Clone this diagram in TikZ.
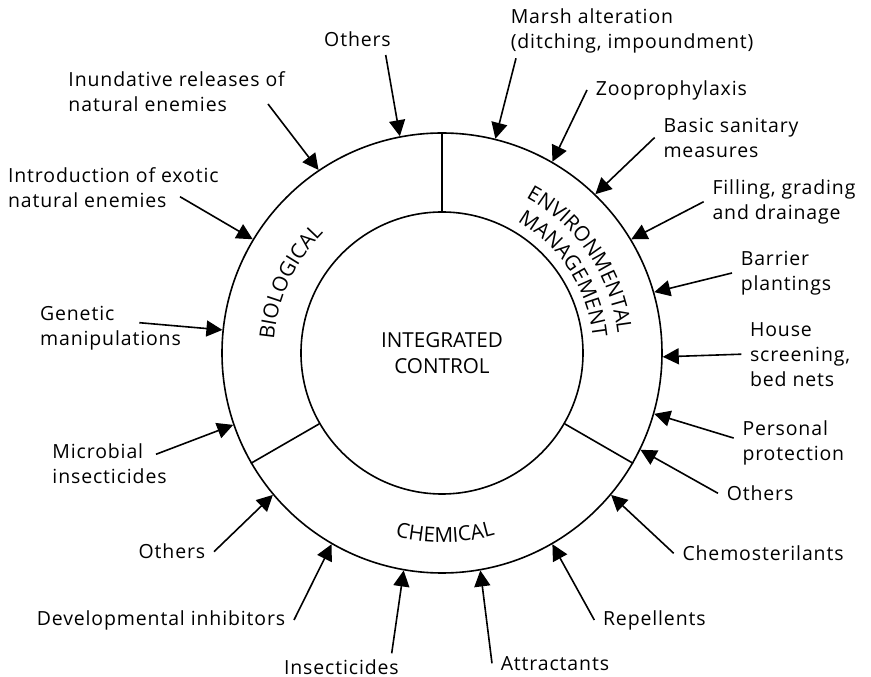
\documentclass[tikz,border=0pt]{standalone}
\usepackage{fontspec}
\setmainfont{Open Sans}
\newfontfamily\labfam{Open Sans}[LetterSpace=4.5]
\usepackage{tikz}
\usetikzlibrary{arrows.meta,decorations.text}
\newcommand{\labfont}{\labfam\fontsize{14.6pt}{18.75pt}\selectfont}
\newcommand{\ringfont}{\fontsize{15.5pt}{19pt}\selectfont}
\tikzset{lab/.style={font=\labfont,align=left,inner sep=6pt},
  ringtext/.style={decorate,decoration={text along path,text align=center,text={|\ringfont|#1}}}}
\begin{document}
\begin{tikzpicture}[x=0.75pt,y=0.75pt,>={Triangle[length=12pt,width=12pt]},line width=1.2pt]
\useasboundingbox (-442,-324) rectangle (429,353);
\node[draw,circle,minimum size=330pt,inner sep=0pt] (ring) at (0,0) {};
\node[draw,circle,minimum size=211.5pt,inner sep=0pt,font=\ringfont,align=center] (core) at (0,0) {INTEGRATED\\CONTROL};
\draw (core.90)--(ring.90); \draw (core.210)--(ring.210); \draw (core.330)--(ring.330);
\path[ringtext=BIOLOGICAL] (185:168.5) arc[start angle=185,end angle=125,radius=168.5];
\path[ringtext=CHEMICAL] (241:189.5) arc[start angle=241,end angle=301,radius=189.5];
\path[ringtext=ENVIRONMENTAL] (70:176.5) arc[start angle=70,end angle=-2,radius=176.5];
\path[ringtext=MANAGEMENT] (70:151.5) arc[start angle=70,end angle=-4,radius=151.5];
% biological side
\node[lab] (othersB) at (-84.5,314) {Others};
\node[lab,anchor=west] (inund) at (-382.3,261.5) {Inundative releases of\\natural enemies};
\node[lab,anchor=west] (intro) at (-442.7,165.5) {Introduction of exotic\\natural enemies};
\node[lab,anchor=west] (genetic) at (-410.7,25) {Genetic\\manipulations};
\node[lab,anchor=west] (microbial) at (-398.3,-111.2) {Microbial\\insecticides};
\coordinate (othersBT) at (-56.3,298); \coordinate (inundT) at (-174,249);
\coordinate (introT) at (-262,156.3); \coordinate (geneticT) at (-302.7,30.3);
\coordinate (microbialT) at (-286,-101.3);
\draw[->] (othersBT)--(ring.101); \draw[->] (inundT)--(ring.124);
\draw[->] (introT)--(ring.149); \draw[->] (geneticT)--(ring.174);
\draw[->] (microbialT)--(ring.199);
% chemical side
\node[lab,anchor=east] (othersC) at (-228,-198.7) {Others};
\node[lab,anchor=east] (devel) at (-148,-267) {Developmental inhibitors};
\node[lab,anchor=west] (insect) at (-166.7,-313.7) {Insecticides};
\node[lab,anchor=west] (attract) at (50,-310.3) {Attractants};
\node[lab,anchor=west] (repell) at (152.3,-267) {Repellents};
\node[lab,anchor=west] (chemo) at (231.7,-200.3) {Chemosterilants};
\coordinate (insectT) at (-50.3,-300.3);
\draw[->] (othersC.east)--(ring.220); \draw[->] (devel.east)--(ring.240);
\draw[->] (insectT)--(ring.260); \draw[->] (attract.west)--(ring.280);
\draw[->] (repell.west)--(ring.300); \draw[->] (chemo.west)--(ring.320);
% environmental side
\node[lab,anchor=west] (othersE) at (276,-140.3) {Others};
\node[lab,anchor=west] (personal) at (291.7,-90.3) {Personal\\protection};
\node[lab,anchor=west] (house) at (299.3,-1.2) {House\\screening,\\bed nets};
\node[lab,anchor=west] (barrier) at (290,80) {Barrier\\plantings};
\node[lab,anchor=west] (filling) at (261.7,151.3) {Filling, grading\\and drainage};
\node[lab,anchor=west] (basic) at (212.7,215.5) {Basic sanitary\\measures};
\node[lab,anchor=west] (zoo) at (145,263) {Zooprophylaxis};
\node[lab,anchor=west] (marsh) at (60,322.2) {Marsh alteration\\(ditching, impoundment)};
\coordinate (marshT) at (74,294.7);
\draw[->] (othersE.west)--(ring.334); \draw[->] (personal.175)--(ring.344);
\draw[->] (house.west)--(ring.359); \draw[->] (barrier.west)--(ring.16);
\draw[->] (filling.west)--(ring.31); \draw[->] (basic.west)--(ring.46);
\draw[->] (zoo.west)--(ring.60); \draw[->] (marshT)--(ring.76);
\end{tikzpicture}
\end{document}
